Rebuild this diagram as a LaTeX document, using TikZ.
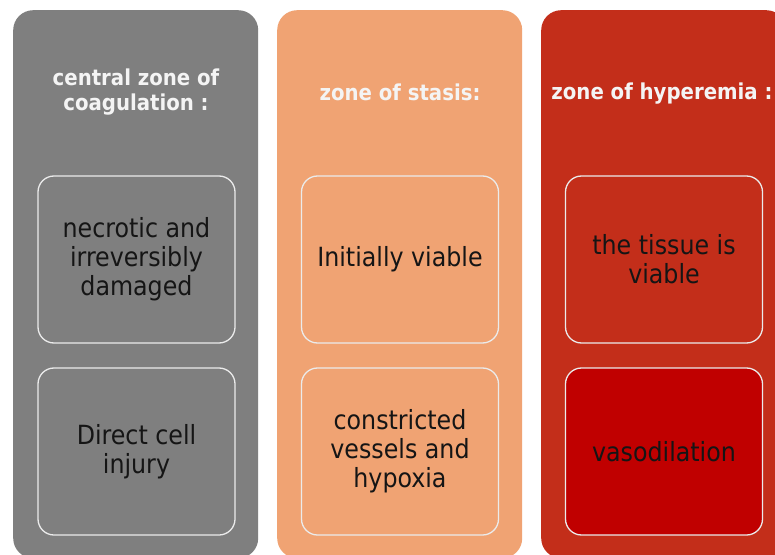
\documentclass[tikz,border=0pt]{standalone}
\usepackage{fontspec}
\setmainfont{DejaVu Sans Condensed}
\definecolor{colgray}{HTML}{7F7F7F}
\definecolor{colsalmon}{HTML}{F0A373}
\definecolor{colred}{HTML}{C32E1A}
\definecolor{boxred}{HTML}{C00000}
\definecolor{titlewhite}{HTML}{F4F4F4}
\definecolor{bodytext}{HTML}{151515}
\tikzset{
  column/.style={rounded corners=20bp, minimum width=245bp, minimum height=548bp, anchor=north west, inner sep=0pt},
  inbox/.style={draw=white!92!black, line width=1.3bp, rounded corners=16bp, minimum width=197bp, minimum height=167bp, inner sep=2bp, align=center, text=bodytext, font=\fontsize{26.5}{29}\selectfont},
  ztitle/.style={text=titlewhite, font=\bfseries\fontsize{22}{26}\selectfont, align=center}
}
\begin{document}
\begin{tikzpicture}[x=1bp,y=-1bp]
\useasboundingbox (0,0) rectangle (775,555);
\clip (0,0) rectangle (775,555);
\fill[white] (0,0) rectangle (775,555);
% columns
\node[column, fill=colgray] (c1) at (13,10) {};
\node[column, fill=colsalmon] (c2) at (277,10) {};
\node[column, fill=colred] (c3) at (541,10) {};
% titles
\node[ztitle] (t1) at (136,92) {central zone of\\coagulation :};
\node[ztitle] (t2) at (400,92) {zone of stasis:};
\node[ztitle] (t3) at (662,94) {zone of hyperemia :};
% inner boxes
\node[inbox] (b11) at (136.5,259.5) {necrotic and\\irreversibly\\damaged};
\node[inbox] (b12) at (136.5,451.5) {Direct cell\\injury};
\node[inbox] (b21) at (400,259.5) {Initially viable};
\node[inbox] (b22) at (400,451.5) {constricted\\vessels and\\hypoxia};
\node[inbox] (b31) at (664,259.5) {the tissue is\\viable};
\node[inbox, fill=boxred] (b32) at (664,451.5) {vasodilation};
\end{tikzpicture}
\end{document}
